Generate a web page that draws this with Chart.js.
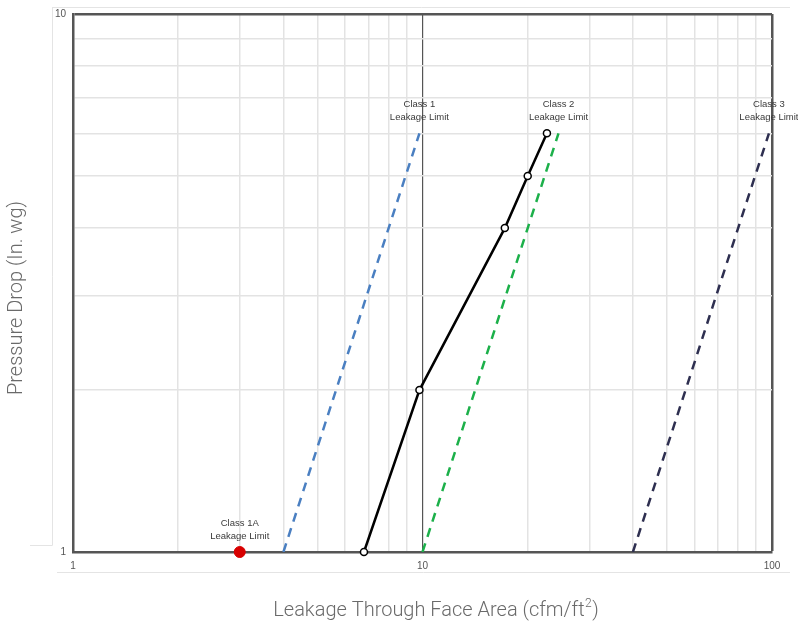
<!DOCTYPE html>
<html>
<head>
<meta charset="utf-8">
<script src="https://cdn.jsdelivr.net/npm/chart.js@4/dist/chart.umd.min.js"></script>
<style>
  html, body { margin: 0; padding: 0; background: #fff; }
  #leakChart { display: block; }
</style>
</head>
<body>
<canvas id="leakChart" width="798" height="626"></canvas>
<script>
// Valores (escala log-log)
const testLeakage = [6.8, 9.8, 17.2, 20.0, 22.7];
const testPressure = [1, 2, 4, 5, 6];

const limitPressure = [1, 6];
const class1Leakage = [4, 9.8];
const class2Leakage = [10, 24.5];
const class3Leakage = [40, 98];

const class1ALeakage = [3];
const class1APressure = [1];

const xTicks = [1, 2, 3, 4, 5, 6, 7, 8, 9, 10, 20, 30, 40, 50, 60, 70, 80, 90, 100];
const yTicks = [1, 2, 3, 4, 5, 6, 7, 8, 9, 10];
const xLabels = [1, 10, 100];
const yLabels = [1, 10];

const xTitle = ['Leakage Through Face Area (cfm/ft', '2', ')'];
const yTitle = 'Pressure Drop (In. wg)';

const limitNotes = [
  { text: ['Class 1A', 'Leakage Limit'], x: class1ALeakage[0], y: class1APressure[0] },
  { text: ['Class 1', 'Leakage Limit'], x: class1Leakage[1], y: limitPressure[1] },
  { text: ['Class 2', 'Leakage Limit'], x: class2Leakage[1], y: limitPressure[1] },
  { text: ['Class 3', 'Leakage Limit'], x: class3Leakage[1], y: limitPressure[1] }
];

const toPoints = (xs, ys) => xs.map((x, i) => ({ x: x, y: ys[i] }));

// Marco tenue, títulos de ejes (con superíndice) y etiquetas de clases
const notesPlugin = {
  id: 'notes',
  beforeDraw(chart) {
    const c = chart.ctx;
    c.save();
    c.strokeStyle = '#e4e4e4';
    c.lineWidth = 1;
    c.beginPath();
    c.moveTo(52.5, 7); c.lineTo(52.5, 545.5); c.lineTo(30, 545.5);
    c.moveTo(52.5, 7.5); c.lineTo(790, 7.5);
    c.moveTo(57, 572.5); c.lineTo(790, 572.5);
    c.stroke();

    // Títulos de ejes
    const big = '300 20px Roboto, sans-serif';
    const small = '300 12px Roboto, sans-serif';
    c.fillStyle = '#6a6a6a';
    c.textBaseline = 'middle';
    c.font = big;
    const w0 = c.measureText(xTitle[0]).width;
    const w2 = c.measureText(xTitle[2]).width;
    c.font = small;
    const w1 = c.measureText(xTitle[1]).width + 1;
    let x0 = 436 - (w0 + w1 + w2) / 2;
    const ty = 611;
    c.textAlign = 'left';
    c.font = big;
    c.fillText(xTitle[0], x0, ty);
    c.font = small;
    c.fillText(xTitle[1], x0 + w0 + 0.5, ty - 7);
    c.font = big;
    c.fillText(xTitle[2], x0 + w0 + w1, ty);

    c.translate(17, 298);
    c.rotate(-Math.PI / 2);
    c.textAlign = 'center';
    c.fillText(yTitle, 0, 0);
    c.restore();
  },
  afterDatasetsDraw(chart) {
    const c = chart.ctx;
    const xs = chart.scales.x, ys = chart.scales.y;
    c.save();
    c.font = '9.5px "Liberation Sans", Arial, sans-serif';
    c.fillStyle = '#3a3a3a';
    c.textAlign = 'center';
    c.textBaseline = 'middle';
    limitNotes.forEach(n => {
      const px = xs.getPixelForValue(n.x);
      const py = ys.getPixelForValue(n.y);
      c.fillText(n.text[0], px, py - 29);
      c.fillText(n.text[1], px, py - 16);
    });
    c.restore();
  }
};

const ctx = document.getElementById('leakChart').getContext('2d');

const leakChart = new Chart(ctx, {
  type: 'scatter',
  data: {
    datasets: [
      {
        label: 'Test',
        data: toPoints(testLeakage, testPressure),
        showLine: true,
        clip: false,
        borderColor: '#000',
        borderWidth: 2.5,
        pointRadius: 3.5,
        pointBackgroundColor: '#fff',
        pointBorderColor: '#000',
        pointBorderWidth: 1.5
      },
      {
        label: 'Class 1A',
        data: toPoints(class1ALeakage, class1APressure),
        clip: false,
        pointRadius: 5.5,
        pointBackgroundColor: '#d80000',
        pointBorderColor: '#d80000'
      },
      {
        label: 'Class 1',
        data: toPoints(class1Leakage, limitPressure),
        showLine: true,
        borderColor: '#4a7fc1',
        borderWidth: 2.5,
        borderDash: [9, 7],
        pointRadius: 0
      },
      {
        label: 'Class 2',
        data: toPoints(class2Leakage, limitPressure),
        showLine: true,
        borderColor: '#1cb04a',
        borderWidth: 2.5,
        borderDash: [9, 7],
        pointRadius: 0
      },
      {
        label: 'Class 3',
        data: toPoints(class3Leakage, limitPressure),
        showLine: true,
        borderColor: '#2e2f50',
        borderWidth: 2.5,
        borderDash: [9, 7],
        pointRadius: 0
      }
    ]
  },
  options: {
    responsive: false,
    animation: false,
    layout: { padding: { top: 14, right: 26, left: 0, bottom: 0 } },
    plugins: {
      legend: { display: false },
      tooltip: { enabled: false }
    },
    scales: {
      x: {
        type: 'logarithmic',
        min: 1,
        max: 100,
        afterBuildTicks: s => { s.ticks = xTicks.map(v => ({ value: v })); },
        afterFit: s => { s.height = 74; },
        border: { color: '#555', width: 2.5 },
        grid: {
          drawTicks: false,
          color: c => (c.tick && (c.tick.value === 10 || c.tick.value === 100)) ? '#555' : '#e3e3e3',
          lineWidth: c => (c.tick && c.tick.value === 100) ? 2.5 : (c.tick && c.tick.value === 10 ? 1.2 : 1.5)
        },
        ticks: {
          autoSkip: false,
          maxRotation: 0,
          padding: 8,
          color: '#555',
          font: { family: '"Liberation Sans", Arial, sans-serif', size: 10 },
          callback: v => xLabels.includes(v) ? String(v) : ''
        },
        title: { display: false }
      },
      y: {
        type: 'logarithmic',
        min: 1,
        max: 10,
        afterBuildTicks: s => { s.ticks = yTicks.map(v => ({ value: v })); },
        afterFit: s => { s.width = 73; },
        border: { color: '#555', width: 2.5 },
        grid: {
          drawTicks: false,
          color: c => (c.tick && c.tick.value === 10) ? '#555' : '#e3e3e3',
          lineWidth: c => (c.tick && c.tick.value === 10) ? 2.5 : 1.5
        },
        ticks: {
          autoSkip: false,
          padding: 7,
          color: '#555',
          font: { family: '"Liberation Sans", Arial, sans-serif', size: 10 },
          callback: v => yLabels.includes(v) ? String(v) : ''
        },
        title: { display: false }
      }
    }
  },
  plugins: [notesPlugin]
});
</script>
</body>
</html>
